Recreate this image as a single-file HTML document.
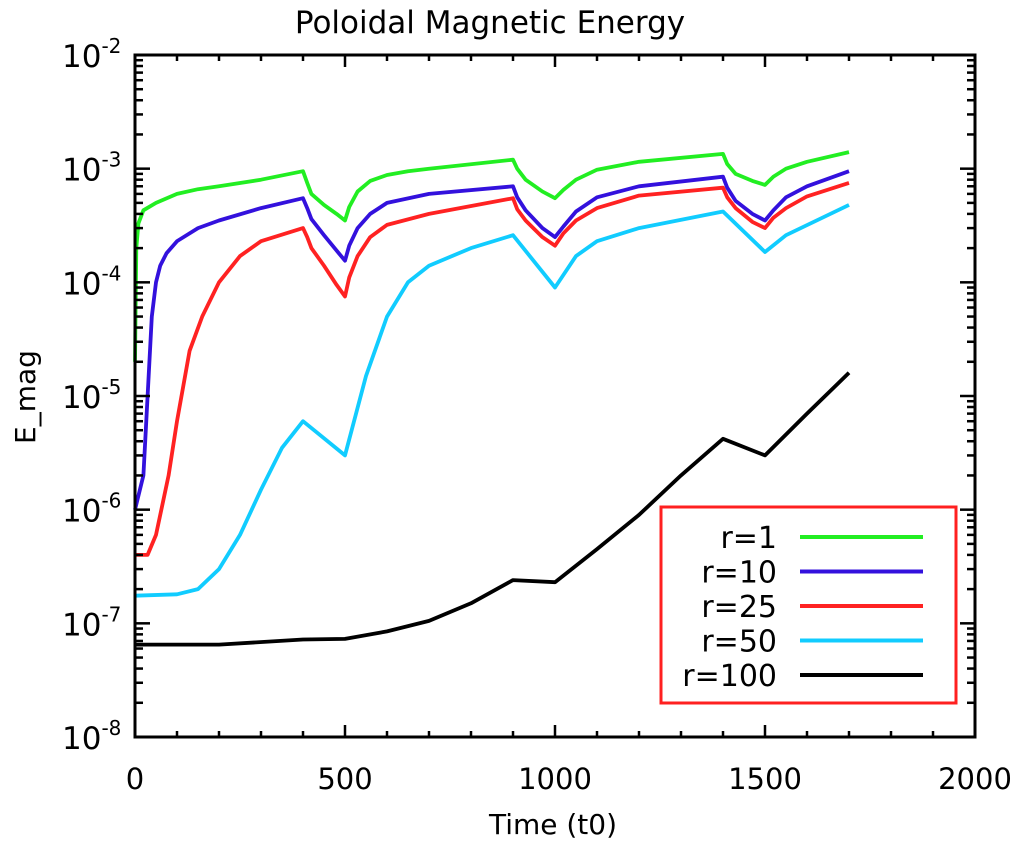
<!DOCTYPE html>
<html><head><meta charset="utf-8"><style>
body{margin:0;background:#fff}
svg text{font-family:"DejaVu Sans","Liberation Sans",sans-serif;fill:#000}
</style></head><body>
<svg id="c" width="1020" height="845" xmlns="http://www.w3.org/2000/svg"></svg>
<script>
const seriesNames=["r=1","r=10","r=25","r=50","r=100"];
const colors=["#22ee22","#3311dd","#ff2222","#11ccff","#000000"];
const tG=[0,3,8,20,50,100,150,200,300,400,410,420,450,480,500,510,530,560,600,650,700,900,910,930,970,1000,1020,1050,1100,1200,1400,1410,1430,1470,1500,1520,1550,1600,1700];
const vG=[2e-5,2e-4,3.3e-4,4.3e-4,5e-4,6e-4,6.6e-4,7e-4,8e-4,9.5e-4,7.5e-4,6e-4,4.8e-4,4e-4,3.5e-4,4.6e-4,6.3e-4,7.8e-4,8.8e-4,9.5e-4,1e-3,1.2e-3,1e-3,8e-4,6.3e-4,5.5e-4,6.5e-4,8e-4,9.8e-4,1.15e-3,1.35e-3,1.1e-3,9e-4,7.8e-4,7.2e-4,8.5e-4,1e-3,1.15e-3,1.4e-3];
const tB=[0,20,30,40,50,60,75,100,150,200,300,400,410,420,450,480,500,510,530,560,600,700,900,910,930,970,1000,1020,1050,1100,1200,1400,1410,1430,1470,1500,1520,1550,1600,1700];
const vB=[1e-6,2e-6,1e-5,5e-5,1e-4,1.4e-4,1.8e-4,2.3e-4,3e-4,3.5e-4,4.5e-4,5.5e-4,4.5e-4,3.6e-4,2.6e-4,1.9e-4,1.55e-4,2.1e-4,3e-4,4e-4,5e-4,6e-4,7e-4,5.6e-4,4.3e-4,3e-4,2.5e-4,3.1e-4,4.2e-4,5.6e-4,7e-4,8.5e-4,6.8e-4,5.2e-4,4e-4,3.5e-4,4.3e-4,5.6e-4,7e-4,9.5e-4];
const tR=[0,30,50,80,100,130,160,200,250,300,400,410,420,450,480,500,510,530,560,600,700,900,910,930,970,1000,1020,1050,1100,1200,1400,1410,1430,1470,1500,1520,1550,1600,1700];
const vR=[4e-7,4e-7,6e-7,2e-6,6e-6,2.5e-5,5e-5,1e-4,1.7e-4,2.3e-4,3e-4,2.5e-4,2e-4,1.4e-4,9.5e-5,7.5e-5,1.1e-4,1.7e-4,2.5e-4,3.2e-4,4e-4,5.5e-4,4.4e-4,3.5e-4,2.5e-4,2.1e-4,2.7e-4,3.5e-4,4.5e-4,5.8e-4,6.8e-4,5.6e-4,4.5e-4,3.4e-4,3e-4,3.7e-4,4.5e-4,5.7e-4,7.5e-4];
const tC=[0,100,150,200,250,300,350,400,500,550,600,650,700,800,900,1000,1050,1100,1200,1400,1500,1550,1700];
const vC=[1.75e-7,1.8e-7,2e-7,3e-7,6e-7,1.5e-6,3.5e-6,6e-6,3e-6,1.5e-5,5e-5,1e-4,1.4e-4,2e-4,2.6e-4,9e-5,1.7e-4,2.3e-4,3e-4,4.2e-4,1.85e-4,2.6e-4,4.8e-4];
const tK=[0,200,400,500,600,700,800,900,1000,1100,1200,1300,1400,1500,1600,1700];
const vK=[6.5e-8,6.5e-8,7.2e-8,7.3e-8,8.5e-8,1.05e-7,1.5e-7,2.4e-7,2.3e-7,4.5e-7,9e-7,2e-6,4.2e-6,3e-6,7e-6,1.6e-5];
const xTicks=[0,500,1000,1500,2000];
const yExps=[-2,-3,-4,-5,-6,-7,-8];

const svg=document.getElementById('c');const NS='http://www.w3.org/2000/svg';
const L=135,R=975,T=55,B=737;
const X=t=>L+(t/2000)*(R-L);
const Y=v=>T+(-2-Math.log10(v))/6*(B-T);
function mk(tag,at,par){const e=document.createElementNS(NS,tag);for(const k in at)e.setAttribute(k,at[k]);(par||svg).appendChild(e);return e;}
const data=[[tG,vG],[tB,vB],[tR,vR],[tC,vC],[tK,vK]];
data.forEach((d,i)=>{
 const p=d[0].map((t,j)=>X(t).toFixed(1)+','+Y(d[1][j]).toFixed(1)).join(' ');
 const e=mk('polyline',{points:p,fill:'none',stroke:colors[i],'stroke-width':3.8,'stroke-linejoin':'round'});
 
 
});
const box=mk('rect',{x:L,y:T,width:R-L,height:B-T,fill:'none',stroke:'#000','stroke-width':3});


for(let t=0;t<=2000;t+=100){const maj=t%500===0;const len=maj?12:6;
 mk('line',{x1:X(t),x2:X(t),y1:B,y2:B-len,stroke:'#000','stroke-width':2.5});
 mk('line',{x1:X(t),x2:X(t),y1:T,y2:T+len,stroke:'#000','stroke-width':2.5});}
xTicks.forEach(t=>{const e=mk('text',{x:X(t),y:789,'font-size':29,'text-anchor':'middle'});e.textContent=t;
 
 });
for(let ex=-8;ex<-2;ex++){for(let m=1;m<10;m++){const v=m*Math.pow(10,ex);const len=m===1?15:8;
 mk('line',{x1:L,x2:L+len,y1:Y(v),y2:Y(v),stroke:'#000','stroke-width':2.5});
 mk('line',{x1:R,x2:R-len,y1:Y(v),y2:Y(v),stroke:'#000','stroke-width':2.5});}}
yExps.forEach(ex=>{const e=mk('text',{x:62,y:Y(Math.pow(10,ex))+12,'font-size':31});
 
 
 e.innerHTML='10<tspan dy="-14" font-size="20">'+ex+'</tspan>';});
let e=mk('text',{x:490,y:33,'font-size':31,'text-anchor':'middle'});e.textContent='Poloidal Magnetic Energy';


e=mk('text',{x:553,y:834,'font-size':28,'text-anchor':'middle'});e.textContent='Time (t0)';


e=mk('text',{x:0,y:0,'font-size':28,'text-anchor':'middle',transform:'translate(35,397) rotate(-90)'});e.textContent='E_mag';


const lg=mk('rect',{x:661,y:507,width:295,height:196,fill:'#fff',stroke:'#ff2020','stroke-width':3});


seriesNames.forEach((n,i)=>{const y=537+i*34.5;
 const t=mk('text',{x:777,y:y+11,'font-size':30,'text-anchor':'end'});t.textContent=n;
 
 
 const l=mk('line',{x1:800,x2:923,y1:y,y2:y,stroke:colors[i],'stroke-width':4});
 
 });
</script>
</body></html>
